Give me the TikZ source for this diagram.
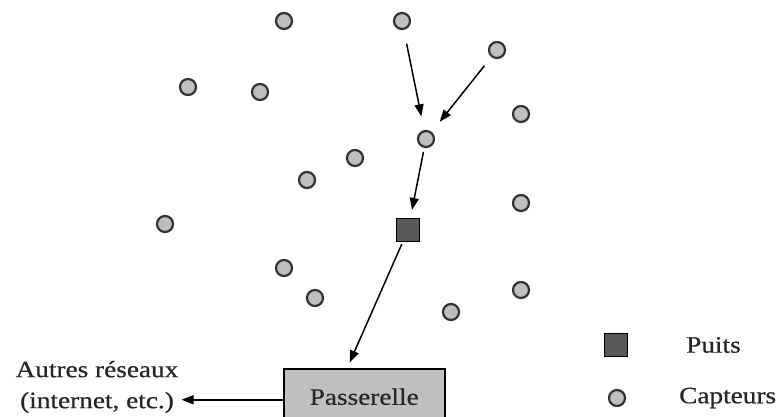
\documentclass[tikz,border=0pt]{standalone}
\usepackage{fontspec}
\setmainfont[FakeStretch=1.16,FakeBold=0.6]{Liberation Serif}
\usetikzlibrary{arrows.meta,calc}
\begin{document}
\begin{tikzpicture}[x=1pt,y=-1pt,
  capteur/.style={circle,draw=black!80,line width=2.2pt,fill=black!25,minimum size=16pt,inner sep=0pt},
  puits/.style={rectangle,draw=black,line width=1.5pt,fill=black!65,minimum size=23pt,inner sep=0pt},
  arr/.style={line width=1.5pt,-{Triangle[length=12pt,width=9pt]}},
  lbl/.style={font=\fontsize{23.5}{31}\selectfont,text=black!85,inner sep=0pt}]
\useasboundingbox (0,0) rectangle (779,417);
\node[capteur] (c1) at (284,21) {};
\node[capteur] (c2) at (402,21) {};
\node[capteur] (c3) at (497,50) {};
\node[capteur] (c4) at (188,87) {};
\node[capteur] (c5) at (260,92) {};
\node[capteur] (c6) at (521,114) {};
\node[capteur] (c7) at (426,139) {};
\node[capteur] (c8) at (355,158) {};
\node[capteur] (c9) at (307,180) {};
\node[capteur] (c10) at (521,203) {};
\node[capteur] (c11) at (165,224) {};
\node[capteur] (c12) at (284,268) {};
\node[capteur] (c13) at (315,298) {};
\node[capteur] (c14) at (521,290) {};
\node[capteur] (c15) at (451,312) {};
\node[puits] (sink) at (408,230) {};
\node[rectangle,draw=black,line width=1.5pt,fill=black!25,minimum width=161pt,minimum height=56pt,lbl,anchor=north west] (pass) at (283,368) {Passerelle};
\node[lbl,align=center] (autres) at (97,387) {Autres réseaux\\(internet, etc.)};
\node[puits] (lp) at (616,345) {};
\node[capteur] (lc) at (617,398) {};
\node[lbl,anchor=west] (tp) at (686,345) {Puits};
\node[lbl,anchor=west] (tc) at (679,398) {Capteurs};
\draw[arr,shorten <=14pt,shorten >=14pt] (c2) -- (c7);
\draw[arr,shorten <=11pt,shorten >=13pt] (c3) -- (c7);
\draw[arr,shorten <=4pt,shorten >=8pt] (c7) -- (sink);
\draw[arr,shorten <=2pt,shorten >=6pt] (sink) -- ([xshift=-17pt]pass.north);
\draw[arr] ([yshift=-3pt]pass.west) -- ([yshift=-3pt,xshift=3pt]pass.west -| autres.east);
\end{tikzpicture}
\end{document}
